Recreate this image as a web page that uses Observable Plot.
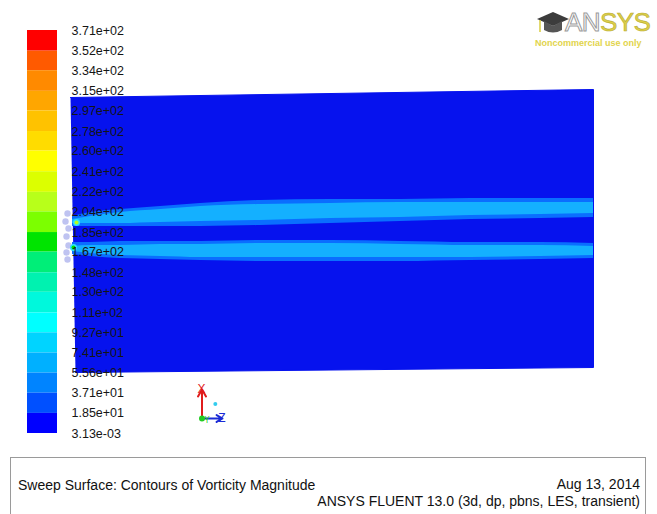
<!DOCTYPE html>
<html><head><meta charset="utf-8">
<script src="https://cdn.jsdelivr.net/npm/d3@7"></script>
<script src="https://cdn.jsdelivr.net/npm/@observablehq/plot@0.6"></script>
<style>
body{margin:0;background:#fff;}
#wrap{position:relative;width:657px;height:514px;overflow:hidden;background:#fff;font-family:"Liberation Sans",Arial,Helvetica,sans-serif;}
#wrap svg.plotlayer{position:absolute;left:0;top:0;}
.abs{position:absolute;}
.capline{position:absolute;white-space:nowrap;line-height:14px;height:14px;}
</style></head><body><div id="wrap"></div>
<script>
// ---- Colour bar: contour levels (vorticity magnitude, 1/s) ----
const levelValues = [371, 352, 334, 315, 297, 278, 260, 241, 222, 204, 185, 167, 148, 130, 111, 92.7, 74.1, 55.6, 37.1, 18.5, 0.00313];
const levelLabels = ["3.71e+02","3.52e+02","3.34e+02","3.15e+02","2.97e+02","2.78e+02","2.60e+02","2.41e+02","2.22e+02","2.04e+02","1.85e+02","1.67e+02","1.48e+02","1.30e+02","1.11e+02","9.27e+01","7.41e+01","5.56e+01","3.71e+01","1.85e+01","3.13e-03"];
const bandColors = ["#ff0000","#ff5a00","#ff8a00","#ffa600","#ffc200","#ffdc00","#ffff00","#dcff00","#b8ff1a","#7cff00","#00e400","#00ee78","#00f2b0","#00f8dc","#00ffff","#00d4ff","#00b0ff","#0084ff","#0050ff","#0000ff"];

// ---- Field: streamwise position z (mm) and transverse position r (mm) ----
const outlineZ = [0, 52.3, 52.3, 0.5];
const outlineR = [13.3, 14.1, -13.7, -14.2];
const jetZ = [0.2, 2, 5, 9, 13, 19, 26, 33, 40, 47, 52.3];
const upperOuterTop    = [1.4, 1.8, 2.1, 2.4, 2.7, 3.0, 3.1, 3.1, 3.2, 3.2, 3.2];
const upperOuterBottom = [0.4, 0.4, 0.4, 0.4, 0.4, 0.5, 0.7, 0.9, 1.1, 1.2, 1.3];
const upperCoreTop     = [1.1, 1.4, 1.8, 2.1, 2.4, 2.6, 2.7, 2.8, 2.8, 2.8, 2.8];
const upperCoreBottom  = [0.7, 0.7, 0.7, 0.8, 0.9, 1.0, 1.2, 1.3, 1.5, 1.6, 1.7];
const lowerOuterTop    = [-1.2, -1.2, -1.1, -1.1, -1.1, -1.0, -1.0, -1.1, -1.2, -1.2, -1.3];
const lowerOuterBottom = [-2.4, -2.6, -2.8, -2.9, -3.0, -3.1, -3.1, -3.1, -3.0, -2.9, -2.8];
const lowerCoreTop     = [-1.6, -1.5, -1.5, -1.4, -1.4, -1.3, -1.3, -1.4, -1.5, -1.5, -1.6];
const lowerCoreBottom  = [-2.1, -2.3, -2.5, -2.6, -2.7, -2.7, -2.7, -2.7, -2.7, -2.6, -2.5];
// nozzle-lip peaks
const lipZ = [0.6, 0.3];
const lipR = [0.8, -1.7];
const lipLevel = [204, 167];
// nozzle wall blobs (drawn left of the plane)
const wallZ = [-0.3, -0.5, -0.2, -0.4, -0.2, -0.4, -0.3];
const wallR = [1.7, 0.9, 0.2, -0.6, -1.5, -2.2, -2.9];

// ---- Axis triad ----
const triadNames = ["X", "Z"];
const triadTipX = [0, 1];
const triadTipY = [1, 0];

const fieldColor = "#0612ee";
const outerColor = "#0a6eff";
const coreColor = "#14b0ff";

const wrap = document.getElementById("wrap");

const outline = outlineZ.map((z, i) => ({z, r: outlineR[i]}));
const mk = (a, b) => jetZ.map((z, i) => ({z, lo: a[i], hi: b[i]}));
const upperOuter = mk(upperOuterBottom, upperOuterTop);
const upperCore = mk(upperCoreBottom, upperCoreTop);
const lowerOuter = mk(lowerOuterBottom, lowerOuterTop);
const lowerCore = mk(lowerCoreBottom, lowerCoreTop);
const lips = lipZ.map((z, i) => ({z, r: lipR[i], v: lipLevel[i]}));
const walls = wallZ.map((z, i) => ({z, r: wallR[i]}));
const bandFor = v => { for (let i = 0; i < levelValues.length - 1; i++) if (v <= levelValues[i] && v >= levelValues[i+1]) return bandColors[i]; return bandColors[bandColors.length-1]; };

const field = Plot.plot({
  width: 657, height: 514,
  marginLeft: 70, marginRight: 64, marginTop: 89, marginBottom: 142,
  x: {domain: [0, 52.3], axis: null},
  y: {domain: [-14.2, 14.1], axis: null},
  style: {background: "transparent", overflow: "visible"},
  marks: [
    Plot.dot(walls, {x: "z", y: "r", r: 3.2, fill: "#b4b8ee", fillOpacity: 0.85, stroke: null}),
    Plot.line(outline, {x: "z", y: "r", fill: fieldColor, stroke: fieldColor, strokeWidth: 1}),
    Plot.areaY(upperOuter, {x: "z", y1: "lo", y2: "hi", fill: outerColor, curve: "monotone-x"}),
    Plot.areaY(upperCore, {x: "z", y1: "lo", y2: "hi", fill: coreColor, curve: "monotone-x"}),
    Plot.areaY(lowerOuter, {x: "z", y1: "lo", y2: "hi", fill: outerColor, curve: "monotone-x"}),
    Plot.areaY(lowerCore, {x: "z", y1: "lo", y2: "hi", fill: coreColor, curve: "monotone-x"}),
    Plot.dot(lips, {x: "z", y: "r", r: 3.5, fill: "#30e0ff", stroke: null}),
    Plot.dot(lips, {x: "z", y: "r", r: 2, fill: d => bandFor(d.v), stroke: null})
  ]
});
field.classList.add("plotlayer");
wrap.appendChild(field);

const bands = bandColors.map((c, i) => ({top: levelValues[i], bottom: levelValues[i+1], color: c}));
const levels = levelValues.map((v, i) => ({v, label: levelLabels[i]}));
const cbar = Plot.plot({
  width: 657, height: 514,
  marginLeft: 27, marginRight: 600, marginTop: 30, marginBottom: 81,
  x: {domain: [0, 1], axis: null},
  y: {domain: [0.00313, 371], axis: null},
  style: {background: "transparent", overflow: "visible"},
  marks: [
    Plot.rect(bands, {x1: () => 0, x2: () => 1, y1: "bottom", y2: "top", fill: "color"}),
    Plot.text(levels, {y: "v", text: "label", frameAnchor: "right", dx: 14, textAnchor: "start", fontSize: 12.5, fill: "#151515", fontFamily: "Liberation Sans, Arial, sans-serif"})
  ]
});
cbar.classList.add("plotlayer");
wrap.appendChild(cbar);

const triad = triadNames.map((n, i) => ({n, x: triadTipX[i], y: triadTipY[i]}));
const triadPlot = Plot.plot({
  width: 657, height: 514,
  marginLeft: 201.5, marginRight: 435, marginTop: 389, marginBottom: 96,
  x: {domain: [0, 1], axis: null},
  y: {domain: [0, 1], axis: null},
  style: {background: "transparent", overflow: "visible"},
  marks: [
    Plot.arrow(triad, {x1: () => 0, y1: () => 0, x2: "x", y2: "y", stroke: d => d.n === "X" ? "#e01c1c" : "#1a2ad6", strokeWidth: 2, headLength: 6}),
    Plot.text(triad, {x: "x", y: "y", text: "n", dx: d => d.n === "X" ? 0 : 9, dy: d => d.n === "X" ? -2 : -1, fill: d => d.n === "X" ? "#e01c1c" : "#1a2ad6", fontSize: 12, fontFamily: "Liberation Sans, Arial, sans-serif"}),
    Plot.dot([0], {x: () => 0, y: () => 0, r: 3, fill: "#22cc22", stroke: null}),
    Plot.text(["Y"], {x: () => 0.25, y: () => -0.08, text: d => d, fill: "#22cc22", fontSize: 8}),
    Plot.dot([0], {x: () => 0.65, y: () => 0.5, r: 2, fill: "#33ccee", stroke: null})
  ]
});
triadPlot.classList.add("plotlayer");
wrap.appendChild(triadPlot);

// ---- ANSYS logo ----
const logo = document.createElement("div");
logo.className = "abs";
logo.style.cssText = "left:534px;top:6px;width:123px;height:44px;";
logo.innerHTML = `
<svg width="34" height="30" style="position:absolute;left:2px;top:3px">
  <polygon points="1,10 17,3 33,10 17,17" fill="#3c3c3c"/>
  <path d="M8,12 L8,21 Q17,26 26,21 L26,12 L17,17 Z" fill="#555"/>
  <line x1="4" y1="11" x2="4" y2="23" stroke="#d8cc40" stroke-width="1.5"/>
</svg>
<div style="position:absolute;left:31px;top:1px;font-size:26px;font-family:'Liberation Sans',Arial,sans-serif;letter-spacing:-0.6px;line-height:30px;">
<span style="color:#fff;-webkit-text-stroke:1px #9a9a9a;">AN</span><span style="color:#dccf4a;-webkit-text-stroke:0.6px #b8aa30;">SYS</span></div>
<div style="position:absolute;left:1px;top:32px;font-size:9px;font-weight:bold;color:#e2d44c;white-space:nowrap;font-family:'Liberation Sans',Arial,sans-serif;">Noncommercial use only</div>`;
wrap.appendChild(logo);

// ---- caption box ----
const cap = document.createElement("div");
cap.className = "abs";
cap.style.cssText = "left:10px;top:457px;width:636px;height:80px;border:1px solid #9a9a9a;box-sizing:border-box;font-size:14px;color:#111;font-family:'Liberation Sans',Arial,sans-serif;";
cap.innerHTML = `
<div class="capline" style="left:7px;top:20px;">Sweep Surface: Contours of Vorticity Magnitude</div>
<div class="capline" style="right:5px;top:19px;">Aug 13, 2014</div>
<div class="capline" style="right:5px;top:36px;">ANSYS FLUENT 13.0 (3d, dp, pbns, LES, transient)</div>`;
wrap.appendChild(cap);
</script>
</body></html>
